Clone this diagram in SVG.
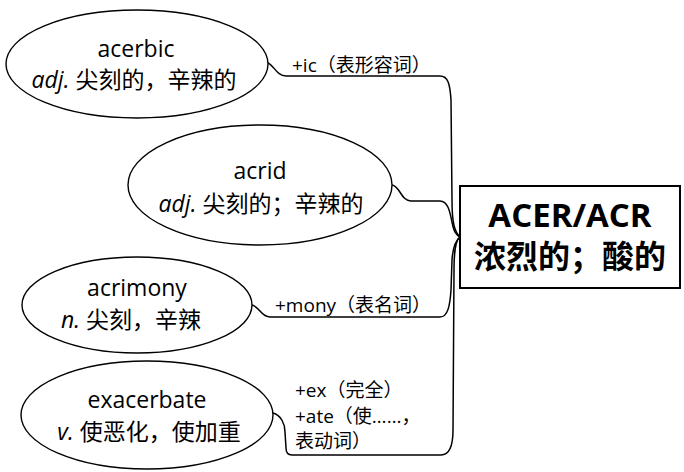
<svg xmlns="http://www.w3.org/2000/svg" width="684" height="472" viewBox="0 0 684 472">
<style>
.bg{fill:#ffffff}
.ell{fill:#ffffff;stroke:#000;stroke-width:1.4}
.con{fill:none;stroke:#000;stroke-width:1.5}
.t{font-family:"Open Sans","Noto Sans CJK SC",sans-serif;font-size:23px;fill:#000;text-anchor:middle}
.lb{font-family:"Open Sans","Noto Sans CJK SC",sans-serif;font-size:19px;fill:#000}
.it{font-style:italic}
.box{fill:#ffffff;stroke:#000;stroke-width:2}
.ct{font-family:"Open Sans","Noto Sans CJK SC",sans-serif;font-weight:bold;fill:#000;text-anchor:middle}
</style>
<rect class="bg" x="0" y="0" width="684" height="472"/>
<g id="connectors">
<path class="con" d="M266,62 C274,64 276,76 286,76 L440,76 C448,76 450,84 451,100 L452,200 C452,225 455,232 460,237"/>
<path class="con" d="M392,185 C400,186 401,201 411,201 L440,201 C448,201 450,212 452,222 C454,232 456,235 460,237"/>
<path class="con" d="M252,305 C260,307 261,317 270,317 L440,317 C448,317 450,305 451,290 L452,260 C453,245 456,240 460,237"/>
<path class="con" d="M273,413 C281,415 285,424 285,432 L286,448 C286,452 288,455 292,455 L441,455 C449,455 453,448 453,430 L454,270 C454,248 456,240 460,237"/>
<text class="lb" x="292" y="72">+ic（表形容词）</text>
<text class="lb" x="275" y="312">+mony（表名词）</text>
<text class="lb" x="295" y="397">+ex（完全）</text>
<text class="lb" x="295" y="423">+ate（使……，</text>
<text class="lb" x="295" y="448">表动词）</text>
</g>
<g id="node-acerbic">
<ellipse class="ell" cx="137" cy="64" rx="131" ry="54"/>
<text class="t" x="136" y="57">acerbic</text>
<text class="t" x="134" y="88"><tspan class="it">adj.</tspan> 尖刻的，辛辣的</text>
</g>
<g id="node-acrid">
<ellipse class="ell" cx="260" cy="185" rx="132" ry="60"/>
<text class="t" x="260" y="179">acrid</text>
<text class="t" x="261" y="212"><tspan class="it">adj.</tspan> 尖刻的；辛辣的</text>
</g>
<g id="node-acrimony">
<ellipse class="ell" cx="137" cy="305" rx="115" ry="48"/>
<text class="t" x="137" y="296">acrimony</text>
<text class="t" x="131" y="328"><tspan class="it">n.</tspan> 尖刻，辛辣</text>
</g>
<g id="node-exacerbate">
<ellipse class="ell" cx="147" cy="415" rx="126" ry="54"/>
<text class="t" x="147" y="408">exacerbate</text>
<text class="t" x="149" y="440"><tspan class="it">v.</tspan> 使恶化，使加重</text>
</g>
<g id="node-root">
<rect class="box" x="460" y="186" width="220" height="102"/>
<text class="ct" x="570" y="227" font-size="33">ACER/ACR</text>
<text class="ct" x="570" y="268" font-size="32">浓烈的；酸的</text>
</g>
</svg>
